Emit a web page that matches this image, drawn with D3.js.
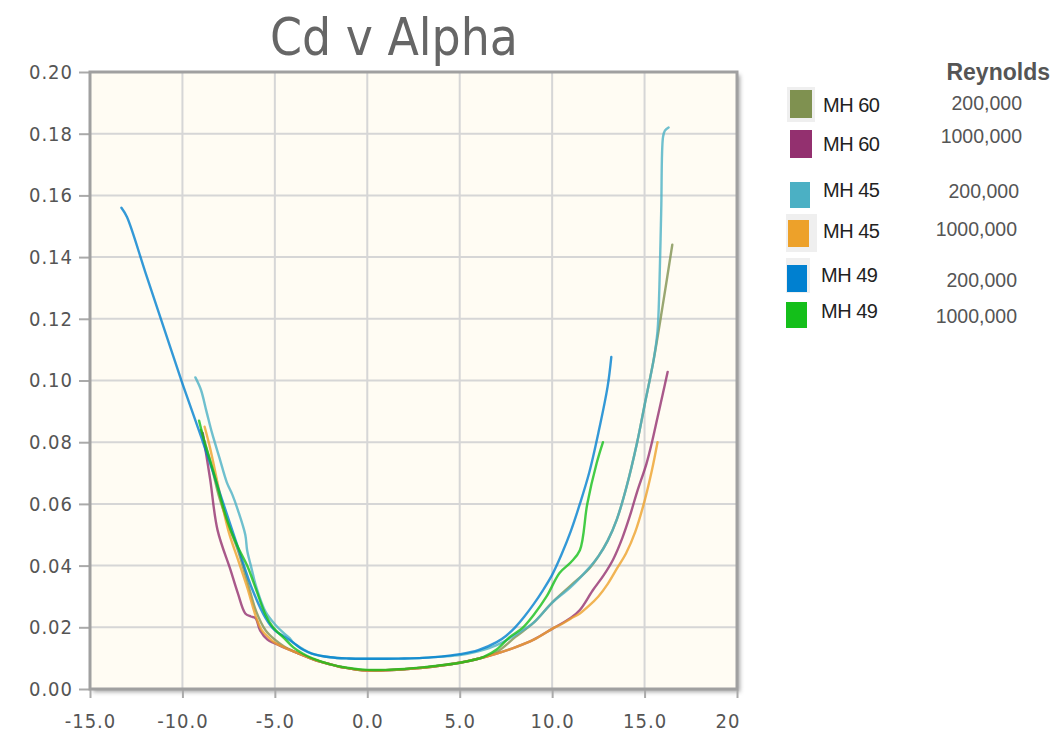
<!DOCTYPE html>
<html>
<head>
<meta charset="utf-8">
<script src="https://cdn.jsdelivr.net/npm/d3@7/dist/d3.min.js"></script>
<style>
  html, body { margin: 0; padding: 0; background: #ffffff; }
  svg { display: block; }
</style>
</head>
<body>
<svg id="chart" width="1057" height="733"></svg>
<script>
// Drag coefficient (Cd) against angle of attack (alpha, degrees) for three sections at two Reynolds numbers.
const xTicks = [-15, -10, -5, 0, 5, 10, 15, 20];
const yTicks = [0, 0.02, 0.04, 0.06, 0.08, 0.10, 0.12, 0.14, 0.16, 0.18, 0.20];

const mh60_200k = [
  [-9.0,0.084],[-8.5,0.074],[-8,0.062],[-7.5,0.053],[-7,0.045],[-6.5,0.035],[-6,0.025],[-5.5,0.019],
  [-5,0.016],[-4.5,0.0138],[-4,0.0123],[-3.5,0.011],[-3,0.0098],[-2.5,0.0088],[-2,0.008],[-1.5,0.0072],
  [-1,0.0067],[-0.5,0.0062],[0,0.006],[0.5,0.006],[1,0.0061],[2,0.0064],[3,0.0069],[4,0.0076],[5,0.0085],
  [6,0.0098],[7,0.012],[8,0.0168],[9,0.0215],[10,0.028],[11,0.0335],[12,0.039],[12.5,0.043],[13,0.048],
  [13.5,0.055],[14,0.065],[14.6,0.080],[15,0.092],[15.5,0.107],[16,0.125],[16.5,0.144]
];
const mh60_1000k = [
  [-8.9,0.083],[-8.5,0.068],[-8.1,0.0515],[-7.4,0.0386],[-7,0.031],[-6.6,0.0245],[-6.3,0.0235],[-6.05,0.023],
  [-5.8,0.019],[-5.4,0.016],[-5,0.0148],[-4.5,0.0134],[-4,0.0122],[-3.5,0.011],[-3,0.0098],[-2.5,0.0088],
  [-2,0.008],[-1.5,0.0072],[-1,0.0067],[-0.5,0.0062],[0,0.006],[0.5,0.006],[1,0.0061],[2,0.0064],[3,0.0069],
  [4,0.0076],[5,0.0085],[6,0.0098],[7,0.0115],[8,0.0135],[9,0.016],[10,0.0195],[11,0.023],[11.5,0.0256],
  [12.2,0.032],[12.8,0.037],[13.3,0.042],[13.8,0.049],[14.2,0.056],[14.6,0.064],[15.1,0.073],[15.4,0.080],
  [15.7,0.088],[16.0,0.096],[16.25,0.1028]
];
const mh45_200k = [
  [-9.3,0.101],[-9.0,0.097],[-8.7,0.090],[-8.4,0.083],[-8.0,0.075],[-7.6,0.067],[-7.3,0.063],[-7.0,0.058],
  [-6.6,0.050],[-6.5,0.045],[-6.3,0.040],[-6,0.033],[-5.5,0.025],[-5,0.021],[-4.5,0.018],[-4.2,0.0165],
  [-4,0.015],[-3.5,0.013],[-3,0.0115],[-2,0.0103],[-1,0.0099],[0,0.0098],[1,0.0098],[2,0.0099],[3,0.0101],
  [4,0.0105],[5,0.011],[6,0.0122],[7,0.0142],[8,0.0175],[9,0.0215],[10,0.028],[11,0.033],[11.9,0.0386],
  [12.5,0.043],[13,0.048],[13.5,0.055],[14,0.065],[14.6,0.080],[15,0.092],[15.5,0.107],[15.7,0.116],
  [15.8,0.130],[15.9,0.155],[16.0,0.179],[16.1,0.181],[16.3,0.182]
];
const mh45_1000k = [
  [-8.8,0.085],[-8.5,0.078],[-8,0.064],[-7.5,0.051],[-7,0.042],[-6.5,0.033],[-6,0.023],[-5.7,0.019],
  [-5.3,0.0165],[-5,0.015],[-4.5,0.0135],[-4,0.0122],[-3.5,0.011],[-3,0.0098],[-2.5,0.0088],[-2,0.008],
  [-1.5,0.0072],[-1,0.0067],[-0.5,0.0062],[0,0.006],[0.5,0.006],[1,0.0061],[2,0.0064],[3,0.0069],[4,0.0076],
  [5,0.0085],[6,0.0098],[7,0.0115],[8,0.0135],[9,0.016],[10,0.0195],[10.5,0.021],[11,0.0228],[11.5,0.0245],
  [12,0.027],[12.5,0.030],[13,0.034],[13.5,0.039],[14,0.044],[14.5,0.051],[15,0.061],[15.4,0.071],[15.7,0.080]
];
const mh49_200k = [
  [-13.3,0.156],[-13.0,0.153],[-12,0.135],[-11,0.117],[-10,0.099],[-9,0.082],[-8,0.064],[-7,0.046],
  [-6.2,0.032],[-5.5,0.023],[-5,0.019],[-4.5,0.017],[-4,0.015],[-3.5,0.0128],[-3,0.0115],[-2,0.0103],
  [-1,0.0099],[0,0.0098],[1,0.0098],[2,0.0099],[3,0.0101],[4,0.0105],[5,0.0113],[6,0.0126],[7,0.0152],
  [7.5,0.0172],[8,0.020],[8.5,0.0235],[9,0.0275],[9.5,0.032],[10,0.037],[10.5,0.0435],[11,0.051],
  [11.5,0.060],[12,0.070],[12.5,0.083],[13,0.098],[13.2,0.1076]
];
const mh49_1000k = [
  [-9.1,0.087],[-8.8,0.080],[-8.3,0.070],[-7.6,0.055],[-7,0.046],[-6.5,0.040],[-6,0.032],[-5.5,0.024],
  [-5.1,0.020],[-4.5,0.0165],[-4,0.0135],[-3.5,0.0115],[-3,0.010],[-2,0.008],[-1,0.0068],[0,0.0062],
  [1,0.0062],[2,0.0065],[3,0.007],[4,0.0077],[5,0.0085],[6,0.0098],[6.3,0.0104],[7,0.0128],[7.7,0.0168],
  [8.4,0.0198],[9,0.024],[9.7,0.030],[10.4,0.0376],[11,0.041],[11.5,0.045],[11.9,0.060],[12.4,0.073],[12.75,0.080]
];

const seriesNames = ["MH 60", "MH 60", "MH 45", "MH 45", "MH 49", "MH 49"];
const reynolds = ["200,000", "1000,000", "200,000", "1000,000", "200,000", "1000,000"];
const seriesColors = ["#7f9150", "#93306f", "#4bb0c4", "#eda12a", "#0080d0", "#14bf1a"];
const seriesData = [mh60_200k, mh60_1000k, mh45_200k, mh45_1000k, mh49_200k, mh49_1000k];

const svg = d3.select("#chart");
const plot = { left: 90, right: 737, top: 72, bottom: 689 };

const x = d3.scaleLinear().domain([-15, 20]).range([plot.left, plot.right]);
const y = d3.scaleLinear().domain([0, 0.2]).range([plot.bottom, plot.top]);

const defs = svg.append("defs");
const shadow = defs.append("filter").attr("id", "frameShadow")
  .attr("x", "-5%").attr("y", "-5%").attr("width", "115%").attr("height", "115%");
shadow.append("feDropShadow").attr("dx", 3).attr("dy", 3).attr("stdDeviation", 2)
  .attr("flood-color", "#000").attr("flood-opacity", 0.35);
defs.append("clipPath").attr("id", "plotClip").append("rect")
  .attr("x", plot.left).attr("y", plot.top)
  .attr("width", plot.right - plot.left).attr("height", plot.bottom - plot.top);
defs.append("clipPath").attr("id", "labelClip").append("rect")
  .attr("x", 0).attr("y", 690).attr("width", 741).attr("height", 60);

// Title
svg.append("text")
  .attr("x", 394).attr("y", 55)
  .attr("text-anchor", "middle")
  .attr("font-family", "'DejaVu Sans Condensed', 'DejaVu Sans', sans-serif")
  .attr("font-size", 51)
  .attr("fill", "#666")
  .text("Cd v Alpha");

// Plot background with frame shadow
svg.append("rect")
  .attr("x", plot.left).attr("y", plot.top)
  .attr("width", plot.right - plot.left).attr("height", plot.bottom - plot.top)
  .attr("fill", "#fffcf3")
  .attr("filter", "url(#frameShadow)");

// Grid lines
const grid = svg.append("g");
grid.selectAll("line.vx").data(xTicks.slice(1, -1)).join("line")
  .attr("x1", d => x(d)).attr("x2", d => x(d))
  .attr("y1", plot.top).attr("y2", plot.bottom)
  .attr("stroke", "#d6d6d6").attr("stroke-width", 2);
grid.selectAll("line.hy").data(yTicks.slice(1, -1)).join("line")
  .attr("y1", d => y(d)).attr("y2", d => y(d))
  .attr("x1", plot.left).attr("x2", plot.right)
  .attr("stroke", "#d6d6d6").attr("stroke-width", 2);

// Axes (x labels clipped at the chart container's right edge)
const tickFont = "'DejaVu Sans Condensed', 'DejaVu Sans', sans-serif";
const xLabelLayer = svg.append("g").attr("clip-path", "url(#labelClip)");
const xAxis = xLabelLayer.append("g").attr("transform", `translate(0,${plot.bottom})`)
  .call(d3.axisBottom(x).tickValues(xTicks).tickFormat(d => d.toFixed(1)).tickSize(9).tickPadding(16));
const yAxis = svg.append("g").attr("transform", `translate(${plot.left},0)`)
  .call(d3.axisLeft(y).tickValues(yTicks).tickFormat(d => d.toFixed(2)).tickSize(11).tickPadding(6));
[xAxis, yAxis].forEach(a => {
  a.select(".domain").remove();
  a.selectAll(".tick line").attr("stroke", "#aaa").attr("stroke-width", 2);
  a.selectAll(".tick text")
    .attr("font-family", tickFont).attr("font-size", 20)
    .attr("letter-spacing", "1px").attr("fill", "#555");
});

// Frame
svg.append("rect")
  .attr("x", plot.left).attr("y", plot.top)
  .attr("width", plot.right - plot.left).attr("height", plot.bottom - plot.top)
  .attr("fill", "none").attr("stroke", "#a0a0a0").attr("stroke-width", 3);

// Series lines
const line = d3.line().x(d => x(d[0])).y(d => y(d[1])).curve(d3.curveCatmullRom.alpha(0.5));
const lines = svg.append("g").attr("clip-path", "url(#plotClip)");
seriesData.forEach((data, i) => {
  lines.append("path")
    .datum(data)
    .attr("d", line)
    .attr("fill", "none")
    .attr("stroke", seriesColors[i])
    .attr("stroke-width", 2.4)
    .attr("stroke-opacity", 0.8)
    .attr("stroke-linejoin", "round")
    .attr("stroke-linecap", "round");
});

// Legend
const legendRows = [
  { swatch: [790, 90, 22, 28], back: [787, 87, 28, 35], textY: 112, reY: 110, reX: 1022 },
  { swatch: [790, 130, 22, 28], back: null, textY: 151, reY: 143, reX: 1022 },
  { swatch: [790, 182, 20, 26], back: null, textY: 197, reY: 198, reX: 1019 },
  { swatch: [788, 220, 21, 27], back: [786, 214, 31, 38], textY: 238, reY: 236, reX: 1017 },
  { swatch: [787, 265, 20, 27], back: [786, 258, 24, 35], textY: 282, reY: 287, reX: 1017 },
  { swatch: [786, 302, 21, 26], back: null, textY: 318, reY: 323, reX: 1017 }
];
const legend = svg.append("g");
legend.append("text")
  .attr("x", 1050).attr("y", 80).attr("text-anchor", "end")
  .attr("font-family", "'Liberation Sans', Arial, sans-serif")
  .attr("font-weight", "bold").attr("font-size", 23).attr("fill", "#555")
  .text("Reynolds");
legendRows.forEach((r, i) => {
  if (r.back) {
    legend.append("rect")
      .attr("x", r.back[0]).attr("y", r.back[1]).attr("width", r.back[2]).attr("height", r.back[3])
      .attr("fill", "#efefef");
  }
  legend.append("rect")
    .attr("x", r.swatch[0]).attr("y", r.swatch[1]).attr("width", r.swatch[2]).attr("height", r.swatch[3])
    .attr("fill", seriesColors[i]);
  legend.append("text")
    .attr("x", i >= 4 ? 821 : 823).attr("y", r.textY)
    .attr("font-family", "'Liberation Sans', Arial, sans-serif")
    .attr("font-size", 20).attr("letter-spacing", "-0.5px").attr("fill", "#222")
    .text(seriesNames[i]);
  legend.append("text")
    .attr("x", r.reX).attr("y", r.reY).attr("text-anchor", "end")
    .attr("font-family", "'Liberation Sans', Arial, sans-serif")
    .attr("font-size", 19.5).attr("fill", "#555")
    .text(reynolds[i]);
});
</script>
</body>
</html>
